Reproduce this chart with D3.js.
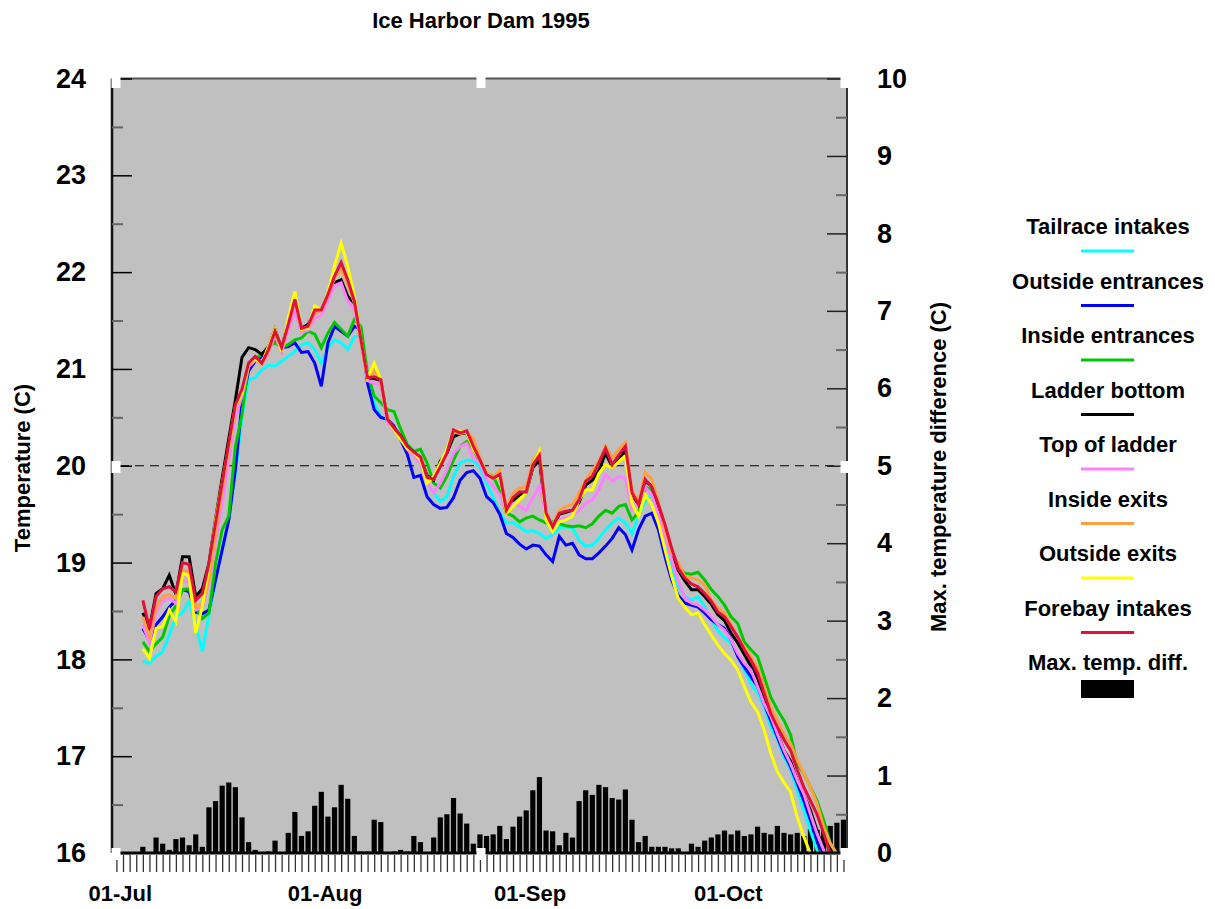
<!DOCTYPE html>
<html>
<head>
<meta charset="utf-8">
<script src="https://cdn.jsdelivr.net/npm/d3@7"></script>
<style>
  body { margin: 0; background: #fff; }
  text { font-family: "Liberation Sans", Arial, sans-serif; font-weight: bold; fill: #000; }
</style>
</head>
<body>
<div id="chart"></div>
<script>
// daily mean temperatures (C), one value per day starting 04-Jul-1995
var firstDay = 3; // days after 01-Jul

var tailrace = [
  17.98, 17.96, 18.03, 18.08, 18.25, 18.44, 18.48, 18.60, 18.35, 18.08,
  18.46, 18.82, 19.13, 19.44, 19.92, 20.51, 20.89, 20.91, 20.99, 21.04,
  21.03, 21.08, 21.13, 21.18, 21.25, 21.27, 21.20, 21.06, 21.22, 21.30,
  21.27, 21.20, 21.33, 21.35, 20.88, 20.65, 20.51, 20.46, 20.40, 20.29,
  20.20, 20.10, 20.03, 19.82, 19.72, 19.63, 19.68, 19.89, 20.03, 20.06,
  20.05, 19.98, 19.82, 19.67, 19.51, 19.41, 19.41, 19.37, 19.32, 19.33,
  19.30, 19.25, 19.29, 19.36, 19.37, 19.36, 19.23, 19.17, 19.18, 19.25,
  19.34, 19.41, 19.46, 19.41, 19.30, 19.48, 19.63, 19.70, 19.48, 19.17,
  18.92, 18.75, 18.65, 18.61, 18.65, 18.54, 18.41, 18.30, 18.22, 18.17,
  18.06, 17.89, 17.75, 17.65, 17.51, 17.30, 17.17, 16.99, 16.86, 16.65,
  16.44, 16.23, 16.03, 15.80, 15.60, 15.40
];

var outsideEntrances = [
  18.32, 18.20, 18.36, 18.44, 18.54, 18.61, 18.72, 18.70, 18.49, 18.47,
  18.51, 18.82, 19.13, 19.44, 19.96, 20.65, 20.98, 21.08, 21.13, 21.22,
  21.29, 21.22, 21.23, 21.27, 21.17, 21.18, 21.06, 20.82, 21.27, 21.44,
  21.39, 21.34, 21.44, 21.41, 20.85, 20.58, 20.50, 20.48, 20.41, 20.27,
  20.12, 19.88, 19.90, 19.68, 19.60, 19.56, 19.57, 19.67, 19.85, 19.93,
  19.95, 19.87, 19.68, 19.62, 19.50, 19.30, 19.26, 19.19, 19.14, 19.18,
  19.17, 19.08, 19.01, 19.27, 19.18, 19.20, 19.08, 19.04, 19.04, 19.10,
  19.17, 19.25, 19.36, 19.29, 19.13, 19.34, 19.48, 19.51, 19.34, 19.06,
  18.82, 18.66, 18.58, 18.56, 18.54, 18.48, 18.41, 18.36, 18.32, 18.20,
  18.03, 17.92, 17.82, 17.72, 17.54, 17.37, 17.20, 17.03, 16.89, 16.72,
  16.54, 16.34, 16.13, 15.99, 15.80, 15.60
];

var insideEntrances = [
  18.18, 18.08, 18.16, 18.23, 18.45, 18.55, 18.72, 18.73, 18.54, 18.42,
  18.48, 18.99, 19.34, 19.48, 20.20, 20.53, 21.06, 21.11, 21.15, 21.23,
  21.27, 21.22, 21.25, 21.30, 21.32, 21.39, 21.36, 21.22, 21.37, 21.48,
  21.41, 21.34, 21.51, 21.44, 20.95, 20.72, 20.65, 20.58, 20.56, 20.38,
  20.22, 20.15, 20.17, 20.03, 19.82, 19.77, 19.89, 20.06, 20.20, 20.25,
  20.17, 20.04, 19.92, 19.89, 19.75, 19.51, 19.48, 19.42, 19.46, 19.48,
  19.44, 19.41, 19.42, 19.40, 19.38, 19.37, 19.38, 19.36, 19.40, 19.48,
  19.54, 19.51, 19.58, 19.60, 19.44, 19.52, 19.78, 19.75, 19.53, 19.30,
  19.10, 18.96, 18.89, 18.88, 18.90, 18.82, 18.72, 18.65, 18.56, 18.44,
  18.37, 18.18, 18.10, 18.03, 17.82, 17.61, 17.48, 17.37, 17.22, 16.92,
  16.82, 16.68, 16.54, 16.34, 16.10, 15.99
];

var ladderBottom = [
  18.48, 18.32, 18.68, 18.73, 18.87, 18.67, 19.06, 19.06, 18.65, 18.73,
  18.99, 19.45, 19.87, 20.28, 20.68, 21.12, 21.22, 21.20, 21.15, 21.23,
  21.41, 21.20, 21.50, 21.68, 21.42, 21.46, 21.58, 21.61, 21.77, 21.89,
  21.92, 21.75, 21.68, 21.30, 20.91, 20.90, 20.88, 20.48, 20.39, 20.31,
  20.20, 20.14, 20.08, 19.90, 19.85, 20.05, 20.13, 20.30, 20.33, 20.34,
  20.18, 20.05, 19.92, 19.88, 19.92, 19.53, 19.64, 19.70, 19.72, 19.98,
  20.06, 19.47, 19.35, 19.50, 19.52, 19.54, 19.62, 19.80, 19.85, 19.95,
  20.13, 19.99, 20.08, 20.15, 19.70, 19.60, 19.84, 19.79, 19.57, 19.36,
  19.12, 18.92, 18.81, 18.72, 18.72, 18.65, 18.57, 18.46, 18.40, 18.27,
  18.17, 18.05, 17.93, 17.80, 17.60, 17.40, 17.24, 17.06, 16.95, 16.75,
  16.60, 16.44, 16.23, 16.03, 15.80, 15.60
];

var topOfLadder = [
  18.36, 18.17, 18.48, 18.61, 18.63, 18.58, 18.82, 18.79, 18.51, 18.54,
  18.79, 19.20, 19.62, 20.05, 20.50, 20.72, 21.02, 21.09, 21.05, 21.17,
  21.34, 21.18, 21.40, 21.60, 21.38, 21.40, 21.52, 21.56, 21.70, 21.86,
  21.89, 21.70, 21.62, 21.28, 20.88, 20.85, 20.84, 20.45, 20.37, 20.29,
  20.17, 20.10, 20.02, 19.82, 19.72, 19.82, 19.96, 20.13, 20.20, 20.23,
  20.08, 20.03, 19.86, 19.79, 19.70, 19.54, 19.61, 19.58, 19.54, 19.67,
  19.79, 19.48, 19.32, 19.44, 19.46, 19.48, 19.54, 19.61, 19.65, 19.75,
  19.91, 19.84, 19.89, 19.87, 19.54, 19.61, 19.78, 19.70, 19.50, 19.26,
  19.03, 18.80, 18.64, 18.58, 18.56, 18.51, 18.44, 18.36, 18.30, 18.20,
  18.06, 17.96, 17.89, 17.72, 17.54, 17.41, 17.23, 17.06, 16.92, 16.75,
  16.61, 16.40, 16.20, 16.03, 15.80, 15.60
];

var insideExits = [
  18.44, 18.23, 18.54, 18.65, 18.67, 18.63, 18.92, 18.91, 18.54, 18.58,
  18.82, 19.30, 19.75, 20.18, 20.60, 20.76, 21.04, 21.10, 21.05, 21.18,
  21.37, 21.20, 21.45, 21.70, 21.40, 21.43, 21.58, 21.60, 21.75, 21.94,
  22.03, 21.88, 21.68, 21.28, 20.90, 20.98, 20.88, 20.48, 20.38, 20.30,
  20.19, 20.13, 20.09, 19.88, 19.86, 20.00, 20.15, 20.35, 20.33, 20.35,
  20.28, 20.08, 19.93, 19.88, 19.95, 19.56, 19.72, 19.77, 19.78, 20.05,
  20.15, 19.52, 19.38, 19.54, 19.58, 19.60, 19.72, 19.85, 19.95, 20.05,
  20.20, 20.08, 20.17, 20.24, 19.75, 19.62, 19.93, 19.86, 19.63, 19.34,
  19.10, 19.00, 18.86, 18.84, 18.82, 18.77, 18.61, 18.53, 18.48, 18.36,
  18.23, 18.13, 18.03, 17.92, 17.72, 17.51, 17.37, 17.23, 17.13, 16.96,
  16.82, 16.68, 16.51, 16.27, 16.10, 15.99
];

var outsideExits = [
  18.11, 18.01, 18.32, 18.34, 18.51, 18.39, 18.89, 18.86, 18.27, 18.55,
  18.95, 19.44, 19.82, 20.20, 20.61, 20.75, 21.06, 21.10, 21.06, 21.23,
  21.41, 21.18, 21.53, 21.80, 21.41, 21.42, 21.65, 21.61, 21.79, 22.06,
  22.30, 22.06, 21.75, 21.30, 20.91, 21.06, 20.89, 20.48, 20.37, 20.27,
  20.18, 20.13, 20.06, 19.82, 19.89, 20.03, 20.17, 20.37, 20.36, 20.34,
  20.17, 20.06, 19.92, 19.87, 19.89, 19.51, 19.58, 19.65, 19.72, 20.01,
  20.15, 19.44, 19.32, 19.42, 19.44, 19.48, 19.65, 19.75, 19.75, 19.92,
  20.01, 19.98, 20.04, 20.10, 19.61, 19.48, 19.70, 19.60, 19.41, 19.13,
  18.86, 18.63, 18.54, 18.46, 18.48, 18.36, 18.25, 18.15, 18.06, 17.99,
  17.89, 17.72, 17.56, 17.46, 17.27, 17.03, 16.84, 16.73, 16.63, 16.37,
  16.17, 15.99, 15.80, 15.60, 15.40, 15.20
];

var forebayIntakes = [
  18.61, 18.32, 18.65, 18.73, 18.75, 18.70, 19.00, 18.98, 18.61, 18.68,
  18.99, 19.41, 19.82, 20.23, 20.63, 20.79, 21.06, 21.13, 21.06, 21.20,
  21.39, 21.22, 21.46, 21.72, 21.42, 21.44, 21.61, 21.61, 21.77, 21.96,
  22.10, 21.92, 21.70, 21.30, 20.91, 20.92, 20.89, 20.48, 20.39, 20.31,
  20.20, 20.14, 20.09, 19.88, 19.86, 19.99, 20.13, 20.37, 20.34, 20.36,
  20.20, 20.06, 19.91, 19.87, 19.91, 19.54, 19.67, 19.73, 19.73, 20.01,
  20.11, 19.51, 19.37, 19.51, 19.53, 19.54, 19.65, 19.84, 19.89, 20.03,
  20.18, 20.01, 20.11, 20.20, 19.72, 19.60, 19.86, 19.78, 19.60, 19.39,
  19.15, 18.94, 18.84, 18.78, 18.75, 18.68, 18.60, 18.49, 18.44, 18.34,
  18.23, 18.10, 17.99, 17.86, 17.65, 17.44, 17.30, 17.17, 17.06, 16.86,
  16.68, 16.54, 16.40, 16.20, 15.99, 15.80
];

// max. temperature difference (C), one value per day starting 01-Jul-1995
var maxDiff = [
  0, 0, 0, 0.08, 0, 0.20, 0.12, 0.04, 0.18, 0.20,
  0.10, 0.24, 0.08, 0.59, 0.67, 0.87, 0.91, 0.85, 0.46, 0.14,
  0.04, 0, 0.02, 0.16, 0, 0.26, 0.53, 0.22, 0.28, 0.61,
  0.79, 0.47, 0.59, 0.88, 0.70, 0.22, 0.02, 0.02, 0.43, 0.40,
  0.01, 0.02, 0.04, 0.02, 0.22, 0.14, 0.01, 0.20, 0.46, 0.50,
  0.71, 0.51, 0.38, 0.12, 0.24, 0.22, 0.24, 0.35, 0.18, 0.34,
  0.47, 0.55, 0.81, 0.98, 0.29, 0.28, 0.10, 0.26, 0.20, 0.67,
  0.81, 0.75, 0.88, 0.85, 0.71, 0.69, 0.82, 0.43, 0.14, 0.22,
  0.08, 0.08, 0.08, 0.06, 0.06, 0.01, 0.12, 0.08, 0.16, 0.20,
  0.24, 0.29, 0.24, 0.29, 0.22, 0.24, 0.34, 0.26, 0.24, 0.35,
  0.26, 0.24, 0.26, 0.22, 0.31, 0.30, 0.35, 0.35, 0.39, 0.43
];

var seriesNames = ["Tailrace intakes", "Outside entrances", "Inside entrances", "Ladder bottom",
                   "Top of ladder", "Inside exits", "Outside exits", "Forebay intakes"];
var seriesValues = [tailrace, outsideEntrances, insideEntrances, ladderBottom,
                    topOfLadder, insideExits, outsideExits, forebayIntakes];
var seriesColors = ["#00ffff", "#0000ff", "#00c800", "#000000",
                    "#ff80ff", "#ffa040", "#ffff00", "#e0103a"];

var leftTicks = [16, 17, 18, 19, 20, 21, 22, 23, 24];
var rightTicks = [0, 1, 2, 3, 4, 5, 6, 7, 8, 9, 10];
var monthLabels = [new Date(Date.UTC(1995, 6, 1)), new Date(Date.UTC(1995, 7, 1)),
                   new Date(Date.UTC(1995, 8, 1)), new Date(Date.UTC(1995, 9, 1))];

// day i after 01-Jul, plotted at noon
function dayDate(i) {
  return new Date(Date.UTC(1995, 6, 1 + i, 12));
}

function drawChart() {
  var W = 1215, H = 909;
  var pL = 112, pR = 847, pT = 78.5, pB = 853;

  var svg = d3.select("#chart").append("svg")
    .attr("width", W)
    .attr("height", H);

  var x = d3.scaleUtc()
    .domain([new Date(Date.UTC(1995, 5, 29, 20, 0)), new Date(Date.UTC(1995, 9, 19, 0, 45))])
    .range([pL, pR]);
  var yL = d3.scaleLinear().domain([16, 24]).range([pB, pT]);
  var yR = d3.scaleLinear().domain([0, 10]).range([pB, pT]);

  // plot background
  svg.append("rect")
    .attr("x", pL).attr("y", pT)
    .attr("width", pR - pL).attr("height", pB - pT)
    .attr("fill", "#c0c0c0");

  svg.append("clipPath").attr("id", "plotclip")
    .append("rect")
    .attr("x", pL).attr("y", pT)
    .attr("width", pR - pL).attr("height", pB - pT);

  var plot = svg.append("g").attr("clip-path", "url(#plotclip)");

  // bars for max temp difference (right axis)
  plot.selectAll("rect.bar")
    .data(maxDiff)
    .enter()
    .append("rect")
    .attr("class", "bar")
    .attr("x", (d, i) => x(dayDate(i)) - 2.6)
    .attr("width", 5.2)
    .attr("y", d => yR(d))
    .attr("height", d => yR(0) - yR(d))
    .attr("fill", "#000");

  // dashed reference line at 20 C
  plot.append("line")
    .attr("x1", 120).attr("x2", 841)
    .attr("y1", yL(20)).attr("y2", yL(20))
    .attr("stroke", "#000")
    .attr("stroke-width", 1.2)
    .attr("stroke-dasharray", "9,6");

  var line = d3.line()
    .x((d, i) => x(dayDate(firstDay + i)))
    .y(d => yL(d));

  seriesValues.forEach(function(vals, k) {
    plot.append("path")
      .datum(vals)
      .attr("d", line)
      .attr("fill", "none")
      .attr("stroke", seriesColors[k])
      .attr("stroke-width", 3);
  });

  // frame
  svg.append("line").attr("x1", pL).attr("x2", pR).attr("y1", pT).attr("y2", pT)
    .attr("stroke", "#555").attr("stroke-width", 2);
  svg.append("line").attr("x1", pL).attr("x2", pL).attr("y1", pT).attr("y2", pB)
    .attr("stroke", "#111").attr("stroke-width", 2.5);
  svg.append("line").attr("x1", pR).attr("x2", pR).attr("y1", pT).attr("y2", pB)
    .attr("stroke", "#333").attr("stroke-width", 2);
  svg.append("line").attr("x1", pL).attr("x2", pR).attr("y1", pB).attr("y2", pB)
    .attr("stroke", "#000").attr("stroke-width", 3);

  // left axis: inward ticks, labels outside
  var minorLeft = d3.range(16.5, 24, 1);
  var gl = svg.append("g").attr("transform", `translate(${pL},0)`)
    .call(d3.axisRight(yL).tickValues(leftTicks).tickSize(20).tickFormat(""));
  gl.select(".domain").remove();
  gl.selectAll("line").attr("stroke", "#000").attr("stroke-width", 1.5);
  var glm = svg.append("g").attr("transform", `translate(${pL},0)`)
    .call(d3.axisRight(yL).tickValues(minorLeft).tickSize(11).tickFormat(""));
  glm.select(".domain").remove();
  glm.selectAll("line").attr("stroke", "#666").attr("stroke-width", 2);

  var glt = svg.append("g").attr("transform", `translate(${pL},0)`)
    .call(d3.axisLeft(yL).tickValues(leftTicks).tickSize(0).tickPadding(26).tickFormat(d3.format("d")));
  glt.select(".domain").remove();
  glt.selectAll("text").style("font-size", "27px");

  // right axis
  var minorRight = d3.range(0.5, 10, 1);
  var gr = svg.append("g").attr("transform", `translate(${pR},0)`)
    .call(d3.axisLeft(yR).tickValues(rightTicks).tickSize(20).tickFormat(""));
  gr.select(".domain").remove();
  gr.selectAll("line").attr("stroke", "#222").attr("stroke-width", 1.5);
  var grm = svg.append("g").attr("transform", `translate(${pR},0)`)
    .call(d3.axisLeft(yR).tickValues(minorRight).tickSize(11).tickFormat(""));
  grm.select(".domain").remove();
  grm.selectAll("line").attr("stroke", "#666").attr("stroke-width", 2);

  var grt = svg.append("g").attr("transform", `translate(${pR},0)`)
    .call(d3.axisRight(yR).tickValues(rightTicks).tickSize(0).tickPadding(30).tickFormat(d3.format("d")));
  grt.select(".domain").remove();
  grt.selectAll("text").style("font-size", "27px");

  // bottom axis: daily ticks and month labels
  var dayTicks = d3.range(-1, 110).map(dayDate);
  var gd = svg.append("g").attr("transform", "translate(0,855)")
    .call(d3.axisBottom(x).tickValues(dayTicks).tickSize(17).tickFormat(""));
  gd.select(".domain").remove();
  gd.selectAll("line").attr("stroke", "#333").attr("stroke-width", 1.3);

  var gm = svg.append("g").attr("transform", `translate(0,${pB})`)
    .call(d3.axisBottom(x).tickValues(monthLabels).tickSize(0).tickPadding(32)
      .tickFormat(d3.utcFormat("%d-%b")));
  gm.select(".domain").remove();
  gm.selectAll("text").style("font-size", "22px");

  // white notches on the frame
  var notchX = [116, 481, 845], notchY = [82, 467, 854];
  notchX.forEach(function(nx, a) {
    notchY.forEach(function(ny, b) {
      if (a === 1 && b === 1) return;
      svg.append("rect")
        .attr("x", nx - 4.5).attr("y", ny - 6)
        .attr("width", 9).attr("height", 12)
        .attr("fill", "#fff");
    });
  });

  // titles
  svg.append("text")
    .attr("x", 481).attr("y", 28)
    .attr("text-anchor", "middle")
    .style("font-size", "22px")
    .text("Ice Harbor Dam 1995");

  svg.append("text")
    .attr("transform", "translate(30,468) rotate(-90)")
    .attr("text-anchor", "middle")
    .style("font-size", "22px")
    .text("Temperature (C)");

  svg.append("text")
    .attr("transform", "translate(946,467) rotate(-90)")
    .attr("text-anchor", "middle")
    .style("font-size", "22px")
    .text("Max. temperature difference (C)");

  // legend
  var legend = svg.append("g");
  seriesNames.forEach(function(name, k) {
    var cy = 226 + 54.5 * k;
    legend.append("text")
      .attr("x", 1108).attr("y", cy + 8)
      .attr("text-anchor", "middle")
      .style("font-size", "22px")
      .text(name);
    legend.append("line")
      .attr("x1", 1081).attr("x2", 1134)
      .attr("y1", cy + 25).attr("y2", cy + 25)
      .attr("stroke", seriesColors[k])
      .attr("stroke-width", 3);
  });
  legend.append("text")
    .attr("x", 1108).attr("y", 226 + 54.5 * 8 + 8)
    .attr("text-anchor", "middle")
    .style("font-size", "22px")
    .text("Max. temp. diff.");
  legend.append("rect")
    .attr("x", 1081).attr("y", 680)
    .attr("width", 53).attr("height", 18)
    .attr("fill", "#000");
}

drawChart();
</script>
</body>
</html>
